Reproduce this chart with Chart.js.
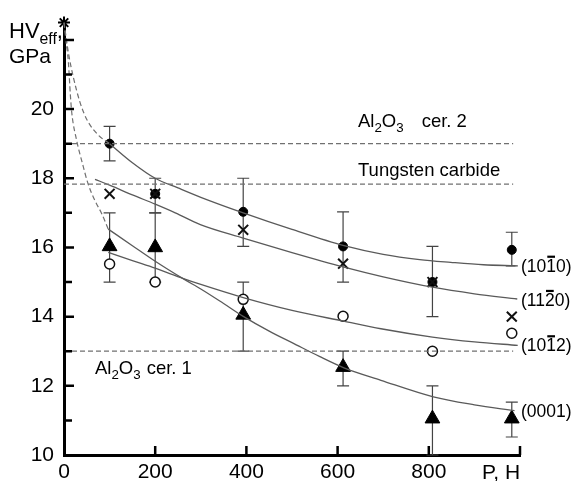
<!DOCTYPE html>
<html>
<head>
<meta charset="utf-8">
<script src="https://cdn.jsdelivr.net/npm/chart.js@4"></script>
<style>
  html, body { margin: 0; padding: 0; background: #fff; }
  #wrap { width: 574px; height: 481px; position: relative; }
</style>
</head>
<body>
<div id="wrap"><canvas id="myChart"></canvas></div>
<script>
  // measured points: load P (H) vs HVeff (GPa)
  const loads = [100, 200, 393, 612, 808, 982];
  const hv1010 = [19.0, 17.55, 17.03, 16.03, 15.0, 15.93];
  const hv1120 = [17.55, 17.55, 16.51, 15.53, 15.0, 14.0];
  const hv1012 = [15.52, 15.0, 14.5, 14.01, 13.0, 13.52];
  const hv0001 = [16.03, 16.0, 14.05, 12.54, 11.05, 11.05];

  // error bars
  const err1010Low  = [18.5, 17.0, 16.03, 15.0, 14.0, 15.47];
  const err1010High = [19.5, 18.0, 18.0, 17.03, 16.03, 16.44];
  const err0001Low  = [15.0, 15.0, 13.0, 12.0, 10.0, 10.52];
  const err0001High = [17.0, 17.0, 15.0, 13.0, 12.0, 11.53];

  // fitted curves
  const fit1010X = [100, 150, 200, 250, 300, 393, 500, 614, 700, 780, 848, 920, 990];
  const fit1010Y = [19.0, 18.45, 18.0, 17.72, 17.45, 17.0, 16.52, 16.05, 15.8, 15.65, 15.57, 15.5, 15.47];
  const fit1120X = [68, 100, 150, 200, 244, 299, 393, 500, 614, 700, 808, 900, 994];
  const fit1120Y = [17.97, 17.8, 17.52, 17.25, 17.0, 16.66, 16.27, 15.85, 15.43, 15.15, 14.85, 14.66, 14.51];
  const fit1012X = [97, 150, 200, 262, 300, 393, 500, 613, 695, 808, 900, 995];
  const fit1012Y = [15.86, 15.62, 15.4, 15.1, 14.93, 14.55, 14.18, 13.87, 13.65, 13.41, 13.27, 13.17];
  const fit0001X = [97, 150, 200, 262, 300, 350, 394, 450, 500, 560, 614, 695, 810, 900, 988];
  const fit0001Y = [16.53, 16.05, 15.6, 15.09, 14.8, 14.38, 14.0, 13.58, 13.25, 12.85, 12.52, 12.16, 11.68, 11.45, 11.28];

  // dashed extrapolation to zero load
  const dashAX = [0, 10, 20, 35, 50, 75, 100];
  const dashAY = [22.5, 21.6, 20.95, 20.2, 19.7, 19.25, 19.0];
  const dashBX = [0, 4, 9.5, 14, 17, 28, 40, 53, 68, 83, 97];
  const dashBY = [22.5, 22.0, 21.38, 20.4, 19.9, 19.08, 18.45, 17.83, 17.35, 16.97, 16.53];

  // reference levels
  const refNames = ['Al2O3 cer. 2', 'Tungsten carbide', 'Al2O3 cer. 1'];
  const refLevels = [19.0, 17.83, 13.0];
  const refEndX = 985;

  const xTicks = [0, 200, 400, 600, 800];
  const yTicks = [10, 12, 14, 16, 18, 20];

  const FONT = "'Liberation Sans', Arial, sans-serif";
  const toPts = (xs, ys) => xs.map((x, i) => ({ x: x, y: ys[i] }));

  const curve = (xs, ys) => ({
    data: toPts(xs, ys), showLine: true, pointRadius: 0,
    borderColor: '#5a5a5a', borderWidth: 1.3, cubicInterpolationMode: 'monotone', clip: false
  });
  const dashed = (xs, ys) => Object.assign(curve(xs, ys), { borderDash: [5, 3], borderColor: '#707070', borderWidth: 1.2 });

  const datasets = [
    dashed(dashAX, dashAY),
    dashed(dashBX, dashBY),
    ...refLevels.map(v => dashed([0, refEndX], [v, v])),
    curve(fit1010X, fit1010Y),
    curve(fit1120X, fit1120Y),
    curve(fit1012X, fit1012Y),
    curve(fit0001X, fit0001Y),
    { data: toPts(loads, hv1012), pointStyle: 'circle', pointRadius: 5, borderWidth: 1.5,
      borderColor: '#111', backgroundColor: '#fff', showLine: false, clip: false },
    { data: toPts(loads, hv0001), pointStyle: 'triangle', pointRadius: 8.5, borderWidth: 1,
      borderColor: '#000', backgroundColor: '#000', showLine: false, clip: false },
    { data: toPts(loads, hv1120), pointStyle: 'crossRot', pointRadius: 7, borderWidth: 2,
      borderColor: '#111', showLine: false, clip: false },
    { data: toPts(loads, hv1010), pointStyle: 'circle', pointRadius: 4.5, borderWidth: 1,
      borderColor: '#000', backgroundColor: '#000', showLine: false, clip: false },
    { data: [{ x: 0, y: 22.5 }], pointStyle: 'star', pointRadius: 6, borderWidth: 2,
      borderColor: '#000', showLine: false, clip: false }
  ];

  // draw text made of parts (subscripts / overbars)
  function drawParts(ctx, x, y, parts, size) {
    ctx.textBaseline = 'alphabetic';
    ctx.textAlign = 'left';
    ctx.fillStyle = '#000';
    ctx.strokeStyle = '#000';
    let cx = x;
    parts.forEach(p => {
      const fs = p.sub ? size * 0.72 : size;
      ctx.font = fs + 'px ' + FONT;
      const w = ctx.measureText(p.t).width;
      const dy = p.sub ? size * 0.28 : 0;
      ctx.fillText(p.t, cx, y + dy);
      if (p.bar) {
        ctx.lineWidth = 2.2;
        ctx.beginPath();
        ctx.moveTo(cx + 1, y - size * 0.86);
        ctx.lineTo(cx + w - 1, y - size * 0.86);
        ctx.stroke();
      }
      cx += w + (p.gap || 0);
    });
  }

  const decorations = {
    id: 'decorations',
    beforeDatasetsDraw(chart) {
      const { ctx, scales: { x, y } } = chart;
      ctx.save();
      ctx.strokeStyle = '#444';
      ctx.lineWidth = 1.2;
      const bars = (lo, hi) => loads.forEach((l, i) => {
        const px = x.getPixelForValue(l);
        const y1 = y.getPixelForValue(lo[i]), y2 = y.getPixelForValue(hi[i]);
        ctx.beginPath();
        ctx.moveTo(px, y1); ctx.lineTo(px, y2);
        ctx.moveTo(px - 6, y1); ctx.lineTo(px + 6, y1);
        ctx.moveTo(px - 6, y2); ctx.lineTo(px + 6, y2);
        ctx.stroke();
      });
      bars(err1010Low, err1010High);
      bars(err0001Low, err0001High);
      ctx.restore();
    },
    afterDraw(chart) {
      const { ctx, scales: { x, y }, chartArea: area } = chart;
      ctx.save();
      // inward tick marks
      ctx.strokeStyle = '#000';
      ctx.lineWidth = 2.5;
      ctx.beginPath();
      for (let v = 11; v <= 22; v++) {
        const py = y.getPixelForValue(v);
        const len = v % 2 === 0 ? 10 : 8;
        ctx.moveTo(area.left, py); ctx.lineTo(area.left + len, py);
      }
      [200, 400, 600, 800, 1000].forEach(v => {
        const px = x.getPixelForValue(v);
        ctx.moveTo(px, area.bottom); ctx.lineTo(px, area.bottom - 9);
      });
      ctx.stroke();

      // axis titles
      drawParts(ctx, 9, 38, [{ t: 'HV' }, { t: 'eff', sub: true }, { t: ',' }], 22);
      drawParts(ctx, 9, 63, [{ t: 'GPa' }], 21);
      ctx.font = '21px ' + FONT;
      ctx.textAlign = 'center';
      ctx.fillText('P, H', x.getPixelForValue(1000) - 19, 479);

      // reference level labels
      drawParts(ctx, 358, y.getPixelForValue(refLevels[0]) - 17,
        [{ t: 'Al' }, { t: '2', sub: true }, { t: 'O' }, { t: '3', sub: true, gap: 18 }, { t: 'cer. 2' }], 18.5);
      drawParts(ctx, 358, y.getPixelForValue(refLevels[1]) - 8, [{ t: refNames[1] }], 18.5);
      drawParts(ctx, 95, y.getPixelForValue(refLevels[2]) + 23,
        [{ t: 'Al' }, { t: '2', sub: true }, { t: 'O' }, { t: '3', sub: true, gap: 6 }, { t: 'cer. 1' }], 18.5);

      // plane labels at curve ends
      const lx = area.right + 1;
      const at = ys => y.getPixelForValue(ys[ys.length - 1]) + 6;
      drawParts(ctx, lx, at(fit1010Y), [{ t: '(10' }, { t: '1', bar: true }, { t: '0)' }], 17.5);
      drawParts(ctx, lx, at(fit1120Y) + 1, [{ t: '(11' }, { t: '2', bar: true }, { t: '0)' }], 17.5);
      drawParts(ctx, lx, at(fit1012Y), [{ t: '(10' }, { t: '1', bar: true }, { t: '2)' }], 17.5);
      drawParts(ctx, lx, at(fit0001Y), [{ t: '(0001)' }], 17.5);
      ctx.restore();
    }
  };

  const ctx = document.getElementById('myChart');

  new Chart(ctx, {
    type: 'scatter',
    data: { datasets: datasets },
    options: {
      responsive: true,
      maintainAspectRatio: false,
      animation: false,
      layout: { padding: { left: 0, right: 54, top: 20, bottom: 0 } },
      plugins: { legend: { display: false }, tooltip: { enabled: false } },
      scales: {
        x: {
          type: 'linear', min: 0, max: 1000,
          grid: { display: false, drawTicks: false },
          border: { display: true, width: 3, color: '#000' },
          afterBuildTicks: s => { s.ticks = xTicks.map(v => ({ value: v })); },
          ticks: { color: '#000', padding: 5, maxRotation: 0, font: { family: FONT, size: 21 } },
          afterFit: s => { s.height = 26; }
        },
        y: {
          min: 10, max: 22.5,
          grid: { display: false, drawTicks: false },
          border: { display: true, width: 3, color: '#000' },
          afterBuildTicks: s => { s.ticks = yTicks.map(v => ({ value: v })); },
          ticks: { color: '#000', padding: 10, font: { family: FONT, size: 21 } },
          afterFit: s => { s.width = 64; }
        }
      }
    },
    plugins: [decorations]
  });
</script>
</body>
</html>
